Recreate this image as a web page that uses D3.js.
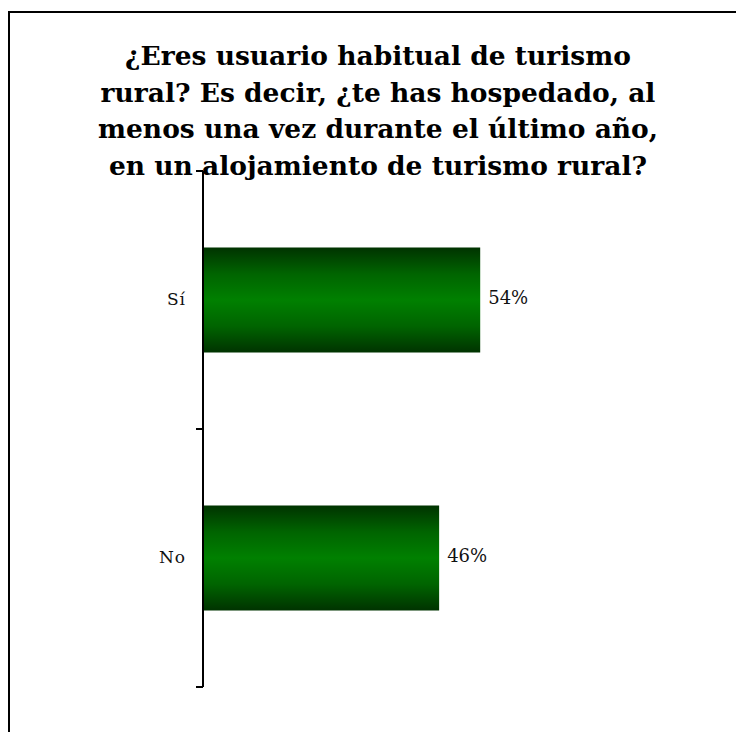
<!DOCTYPE html>
<html><head><meta charset="utf-8">
<script src="https://cdn.jsdelivr.net/npm/d3@7"></script>
<style>html,body{margin:0;padding:0;background:#fff;overflow:hidden;}</style>
</head><body>
<script>
const categories = ["Sí", "No"];
const values = [54, 46];
const valueLabels = ["54%", "46%"];
const titleLines = [
  "¿Eres usuario habitual de turismo",
  "rural? Es decir, ¿te has hospedado, al",
  "menos una vez durante el último año,",
  "en un alojamiento de turismo rural?"
];

(function () {
const W = 736, H = 732;
const svg = d3.select("body").append("svg").attr("width", W).attr("height", H).style("display", "block");

// frame
svg.append("rect").attr("x", 9).attr("y", 12).attr("width", 760).attr("height", 760)
  .attr("fill", "none").attr("stroke", "#000").attr("stroke-width", 2);

const defs = svg.append("defs");
const grad = defs.append("linearGradient").attr("id", "g").attr("x1", 0).attr("y1", 0).attr("x2", 0).attr("y2", 1);
[[0, "#003300"], [0.25, "#006400"], [0.5, "#008000"], [0.75, "#006400"], [1, "#003300"]]
  .forEach(([o, c]) => grad.append("stop").attr("offset", o).attr("stop-color", c));

const mLeft = 203, mTop = 171, mBottom = 687;
const y = d3.scaleBand().domain(categories).range([mTop, mBottom]).paddingInner(0.593).paddingOuter(0.2965);
const x = d3.scaleLinear().domain([0, 60]).range([mLeft, mLeft + 308]);

// bars
svg.selectAll("rect.bar").data(categories).enter().append("rect")
  .attr("class", "bar")
  .attr("x", x(0)).attr("y", d => y(d))
  .attr("width", (d, i) => x(values[i]) - x(0))
  .attr("height", y.bandwidth())
  .attr("fill", "url(#g)");

// axis
const step = y.step();
const tickPos = d3.range(categories.length + 1).map(i => mTop + i * step);
svg.append("line").attr("x1", mLeft).attr("x2", mLeft).attr("y1", mTop).attr("y2", mBottom)
  .attr("stroke", "#000").attr("stroke-width", 2);
svg.selectAll("line.tick").data(tickPos).enter().append("line")
  .attr("x1", mLeft - 7).attr("x2", mLeft).attr("y1", d => d).attr("y2", d => d)
  .attr("stroke", "#000").attr("stroke-width", 2);

// category labels
svg.selectAll("text.cat").data(categories).enter().append("text")
  .attr("x", 186).attr("y", d => y(d) + y.bandwidth() / 2 + 5)
  .attr("text-anchor", "end")
  .style("font-family", "'DejaVu Serif', serif").style("font-size", "17px").style("fill", "#111")
  .style("letter-spacing", "1px")
  .text(d => d);

// value labels
svg.selectAll("text.val").data(categories).enter().append("text")
  .attr("x", (d, i) => x(values[i]) + 8).attr("y", d => y(d) + y.bandwidth() / 2 + 4)
  .attr("text-anchor", "start")
  .style("font-family", "'DejaVu Serif', serif").style("font-size", "18px").style("fill", "#111")
  .text((d, i) => valueLabels[i]);

// title
svg.selectAll("text.title").data(titleLines).enter().append("text")
  .attr("x", 378).attr("y", (d, i) => 65 + i * 36.5)
  .attr("text-anchor", "middle")
  .style("font-family", "'DejaVu Serif', serif").style("font-weight", "bold").style("font-size", "26.5px")
  .style("fill", "#000")
  .text(d => d);
})();
</script>
</body></html>
